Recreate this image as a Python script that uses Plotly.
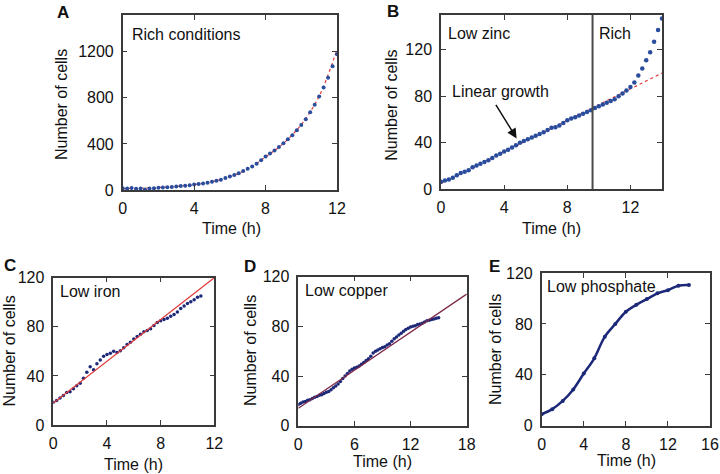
import plotly.graph_objects as go

# ---- data ----
# A: rich conditions, exponential growth
t_a = [0, 0.25, 0.5, 0.75, 1, 1.25, 1.5, 1.75, 2, 2.25, 2.5, 2.75, 3, 3.25, 3.5, 3.75,
       4, 4.25, 4.5, 4.75, 5, 5.25, 5.5, 5.75, 6, 6.25, 6.5, 6.75, 7, 7.25, 7.5, 7.75,
       8, 8.25, 8.5, 8.75, 9, 9.25, 9.5, 9.75, 10, 10.25, 10.5, 10.75, 11, 11.25, 11.5, 11.75, 12]
cells_a = [15, 12, 17, 10, 12, 5, 12, 15, 19, 21, 24, 27, 31, 35, 38, 42,
           47, 52, 57, 64, 71, 80, 90, 104, 118, 130, 145, 164, 185, 204, 228, 258,
           290, 316, 344, 374, 405, 440, 475, 520, 565, 615, 675, 740, 812, 890, 975, 1075, 1180]
fit_t_a = [0, 1, 2, 3, 4, 5, 6, 7, 8, 9, 10, 11, 12]
fit_a = [12, 16, 22, 32, 47, 71, 115, 183, 288, 405, 568, 815, 1220]

# B: low zinc then rich
t_b = [0, 0.25, 0.5, 0.75, 1, 1.25, 1.5, 1.75, 2, 2.25, 2.5, 2.75, 3, 3.25, 3.5, 3.75,
       4, 4.25, 4.5, 4.75, 5, 5.25, 5.5, 5.75, 6, 6.25, 6.5, 6.75, 7, 7.25, 7.5, 7.75,
       8, 8.25, 8.5, 8.75, 9, 9.25, 9.5, 9.75, 10, 10.25, 10.5, 10.75, 11, 11.25, 11.5, 11.75,
       12, 12.25, 12.5, 12.75, 13, 13.25, 13.5, 13.75, 14]
cells_b = [6.5, 7.5, 8.5, 10, 12, 14, 15, 16.5, 19, 20.5, 22, 23.5, 25, 27, 29, 30.5,
           32.5, 34, 36, 38, 40, 41.5, 43, 44.5, 46, 47.5, 49, 51, 53, 53.5, 55, 57,
           59.5, 61, 62, 63.5, 65, 66.5, 68, 70, 71.5, 73, 74.5, 76, 77.5, 80, 82.5, 85,
           88, 92, 98, 104, 111, 118, 127, 137, 147]
fit_t_b = [0, 14]
fit_b = [5, 100]
switch_b = 9.6

# C: low iron
t_c = [0, 0.25, 0.5, 0.75, 1, 1.25, 1.5, 1.75, 2, 2.25, 2.5, 2.75, 3, 3.25, 3.5, 3.75,
       4, 4.25, 4.5, 4.75, 5, 5.25, 5.5, 5.75, 6, 6.25, 6.5, 6.75, 7, 7.25, 7.5, 7.75,
       8, 8.25, 8.5, 8.75, 9, 9.25, 9.5, 9.75, 10, 10.25, 10.5, 10.75, 11]
cells_c = [18.5, 20, 22, 24, 26.5, 27, 29.5, 32, 34, 38, 43, 47.5, 45, 50, 53, 56,
           57.5, 58.5, 60, 59, 60.5, 63, 65.5, 67.5, 70, 72, 74, 76, 77, 78.5, 81, 83.5,
           85, 86, 87, 88.5, 90, 92, 95, 97, 99, 100.5, 102, 104, 105]
fit_t_c = [0, 12]
fit_c = [18, 120]

# D: low copper
t_d = [0, 0.25, 0.5, 0.75, 1, 1.25, 1.5, 1.75, 2, 2.25, 2.5, 2.75, 3, 3.25, 3.5, 3.75,
       4, 4.25, 4.5, 4.75, 5, 5.25, 5.5, 5.75, 6, 6.25, 6.5, 6.75, 7, 7.25, 7.5, 7.75,
       8, 8.25, 8.5, 8.75, 9, 9.25, 9.5, 9.75, 10, 10.25, 10.5, 10.75, 11, 11.25, 11.5, 11.75,
       12, 12.25, 12.5, 12.75, 13, 13.25, 13.5, 13.75, 14, 14.25, 14.5, 14.75, 15]
cells_d = [17, 18, 19, 19.5, 20.5, 21, 22, 23, 23.5, 24.5, 25, 26, 27, 27.5, 29, 30.5,
           32, 33.5, 35.5, 38, 40, 42, 44, 45.5, 46.5, 47, 48, 49.5, 51, 52.5, 54, 56,
           58.5, 60, 61, 62, 63, 63.5, 65, 66, 68, 70, 71.5, 73, 74.5, 76, 77.5, 78.5,
           79.5, 80, 80.5, 81.5, 82, 82.5, 83.5, 84.5, 85, 85.5, 86, 86.5, 87]
fit_t_d = [0, 18]
fit_d = [14, 106]

# E: low phosphate
t_e = [0, 1, 2, 3, 4, 5, 6, 7, 8, 9, 10, 11, 12, 13, 14]
cells_e = [9, 13, 19.5, 28.5, 41, 53, 70, 80, 89.5, 95, 99.5, 104, 106.5, 110, 110.5]

W, H = 720, 474
FONT = "Liberation Sans, Arial, sans-serif"
BLUE = "#2a4c9c"
NAVY = "#1c2878"
RED = "#e23a3a"


def px(x):
    return x / W


def py(y):
    return 1 - y / H


fig = go.Figure()

# A
fig.add_trace(go.Scatter(x=fit_t_a, y=fit_a, mode="lines", line=dict(color=RED, width=1.2, dash="dot", shape="spline"),
                         xaxis="x", yaxis="y"))
fig.add_trace(go.Scatter(x=t_a, y=cells_a, mode="markers", marker=dict(color=BLUE, size=4),
                         xaxis="x", yaxis="y"))
# B
fig.add_trace(go.Scatter(x=fit_t_b, y=fit_b, mode="lines", line=dict(color=RED, width=1.2, dash="dot"),
                         xaxis="x2", yaxis="y2"))
fig.add_trace(go.Scatter(x=t_b, y=cells_b, mode="markers", marker=dict(color=BLUE, size=4.5),
                         xaxis="x2", yaxis="y2"))
# C
fig.add_trace(go.Scatter(x=t_c, y=cells_c, mode="markers", marker=dict(color=NAVY, size=3.5),
                         xaxis="x3", yaxis="y3"))
fig.add_trace(go.Scatter(x=fit_t_c, y=fit_c, mode="lines", line=dict(color=RED, width=1.2),
                         xaxis="x3", yaxis="y3"))
# D
fig.add_trace(go.Scatter(x=t_d, y=cells_d, mode="markers", marker=dict(color=NAVY, size=3.5),
                         xaxis="x4", yaxis="y4"))
fig.add_trace(go.Scatter(x=fit_t_d, y=fit_d, mode="lines", line=dict(color="#7d2848", width=1.3),
                         xaxis="x4", yaxis="y4"))
# E
fig.add_trace(go.Scatter(x=t_e, y=cells_e, mode="lines+markers", line=dict(color=NAVY, width=2.5, shape="spline"),
                         marker=dict(color=NAVY, size=4), xaxis="x5", yaxis="y5"))

axis_style = dict(showgrid=False, zeroline=False, showline=True, linecolor="#3a3a3a", linewidth=1.5,
                  mirror="ticks", ticks="inside", ticklen=5, tickcolor="#3a3a3a", tickwidth=1,
                  tickfont=dict(size=16, color="#111111", family=FONT), automargin=False,
                  ticklabelstandoff=4)

panels = [
    # x domain px, y domain px, x range, x ticks, y range, y ticks
    ((122.7, 337), (15, 190), [0, 12], [0, 4, 8, 12], [0, 1520], [0, 400, 800, 1200]),
    ((441, 662), (15, 189.3), [0, 14], [0, 4, 8, 12], [0, 150], [0, 40, 80, 120]),
    ((53.3, 214.3), (277.7, 425), [0, 12], [0, 4, 8, 12], [0, 120], [0, 40, 80, 120]),
    ((298.3, 466.7), (276.7, 425.7), [0, 18], [0, 6, 12, 18], [0, 120], [0, 40, 80, 120]),
    ((541.7, 710), (273, 425.7), [0, 16], [0, 4, 8, 12, 16], [0, 120], [0, 40, 80, 120]),
]
layout_axes = {}
for i, (xd, yd, xr, xt, yr, yt) in enumerate(panels, start=1):
    sfx = "" if i == 1 else str(i)
    layout_axes["xaxis" + sfx] = dict(axis_style, domain=[px(xd[0]), px(xd[1])], range=xr, tickvals=xt,
                                      anchor="y" + sfx, ticklabelstandoff=3)
    layout_axes["yaxis" + sfx] = dict(axis_style, domain=[py(yd[1]), py(yd[0])], range=yr, tickvals=yt,
                                      anchor="x" + sfx)

fig.update_layout(**layout_axes)

annotations = []


def text(x, y, s, size=16, bold=False, xanchor="left", angle=0):
    annotations.append(dict(xref="paper", yref="paper", x=px(x), y=py(y), text=f"<b>{s}</b>" if bold else s,
                            showarrow=False, xanchor=xanchor, yanchor="middle", textangle=angle,
                            font=dict(size=size, color="#111111", family=FONT)))


# panel letters
text(55, 12.5, "A", 17, True)
text(385, 11.5, "B", 17, True)
text(2, 265, "C", 17, True)
text(242, 266, "D", 17, True)
text(487, 266.5, "E", 17, True)
# labels inside plots
text(130, 35, "Rich conditions")
text(446, 33.5, "Low zinc")
text(597, 33.5, "Rich")
text(450, 91.5, "Linear growth")
text(58, 291, "Low iron")
text(303, 290, "Low copper")
text(545, 286.5, "Low phosphate")
# axis titles
for cx, cy in [(231, 228), (551.7, 228.5), (133, 464), (382.5, 461), (626, 460)]:
    text(cx, cy, "Time (h)", xanchor="center")
for cx, cy in [(62, 105), (391.7, 105), (8.5, 351), (250, 351), (495, 350)]:
    text(cx, cy, "Number of cells", xanchor="center", angle=-90)

# arrow pointing at the linear growth in B
annotations.append(dict(xref="x2", yref="y2", axref="x2", ayref="y2", x=4.79, y=43.8, ax=3.42, ay=74,
                        text="", showarrow=True, arrowhead=2, arrowsize=1.3, arrowwidth=1.5,
                        arrowcolor="#111111"))

fig.update_layout(
    template="none",
    width=W, height=H,
    margin=dict(l=0, r=0, t=0, b=0),
    paper_bgcolor="white", plot_bgcolor="white",
    showlegend=False,
    font=dict(family=FONT, size=16, color="#111111"),
    annotations=annotations,
    shapes=[dict(type="line", xref="x2", yref="y2 domain", x0=switch_b, x1=switch_b, y0=0, y1=1,
                 line=dict(color="#4a4a4a", width=2))],
)

# drop the default page margin so the figure sits at the window's top-left corner
fig.write_html("out.html", config={"displayModeBar": False},
               post_script="document.body.style.margin='0';document.body.style.overflow='hidden';")
